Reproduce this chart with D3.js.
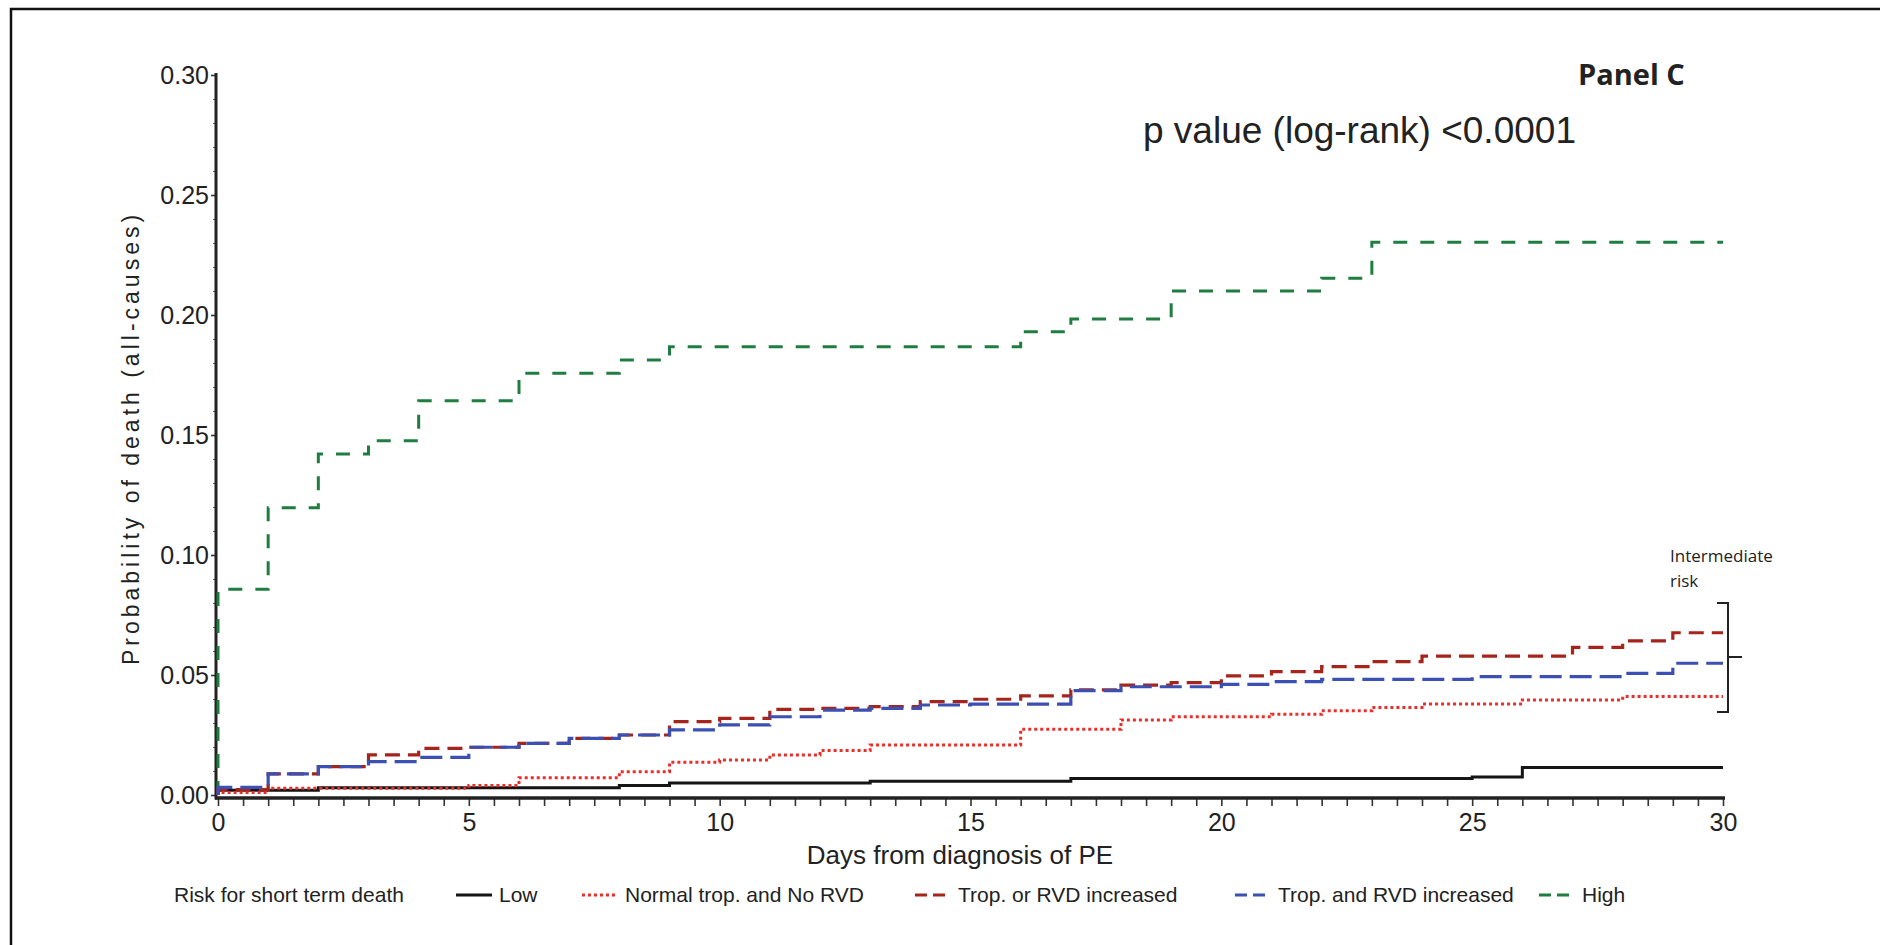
<!DOCTYPE html>
<html>
<head>
<meta charset="utf-8">
<script src="https://cdn.jsdelivr.net/npm/d3@7"></script>
<style>
    body { margin: 0; background: #fff; }
    svg { display: block; }
    text { font-family: "Liberation Sans", Arial, sans-serif; fill: #222; }
</style>
</head>
<body>
<svg id="chart" width="1880" height="945"></svg>
<script>
// days of each step + cumulative probability of death after the step
const lowDays = [0, 2, 8, 9, 13, 17, 25, 26];
const lowProb = [0.002, 0.003, 0.004, 0.005, 0.0057, 0.0069, 0.0075, 0.0115];

const normalDays = [0, 1, 5, 6, 8, 9, 10, 11, 12, 13, 16, 18, 19, 21, 22, 23, 24, 26, 28];
const normalProb = [0.001, 0.0028, 0.004, 0.0072, 0.0097, 0.0136, 0.0146, 0.0167, 0.0185, 0.0208,
    0.0274, 0.0313, 0.0326, 0.0336, 0.0351, 0.0365, 0.0379, 0.0396, 0.041];

const tropOrDays = [0, 1, 2, 3, 4, 5, 6, 7, 8, 9, 10, 11, 12, 13, 14, 15, 16, 17, 18, 19, 20, 21, 22, 23, 24, 27, 28, 29];
const tropOrProb = [0.0022, 0.0088, 0.0118, 0.0167, 0.0194, 0.0199, 0.0215, 0.0236, 0.025, 0.0306,
    0.0319, 0.0357, 0.0361, 0.0368, 0.0389, 0.0399, 0.0413, 0.0438, 0.0458, 0.0468,
    0.0496, 0.0514, 0.0535, 0.0556, 0.0579, 0.0615, 0.0642, 0.0676];

const tropAndDays = [0, 1, 2, 3, 4, 5, 6, 7, 8, 9, 10, 11, 12, 13, 14, 15, 17, 18, 20, 21, 22, 25, 28, 29];
const tropAndProb = [0.0032, 0.0088, 0.0118, 0.0139, 0.0157, 0.0199, 0.0215, 0.0236, 0.025, 0.0271,
    0.0292, 0.0326, 0.0354, 0.0361, 0.0375, 0.0379, 0.0435, 0.0451, 0.0461, 0.0472,
    0.0482, 0.0493, 0.0507, 0.0549];

const highDays = [0, 1, 2, 3, 4, 6, 8, 9, 16, 17, 19, 22, 23];
const highProb = [0.0857, 0.1197, 0.1421, 0.1476, 0.1643, 0.1757, 0.1813, 0.1868, 0.193, 0.1983, 0.21, 0.2153, 0.2303];

const groupNames = ["Low", "Normal trop. and No RVD", "Trop. or RVD increased", "Trop. and RVD increased", "High"];

const xTicks = [0, 5, 10, 15, 20, 25, 30];
const yTicks = [0, 0.05, 0.10, 0.15, 0.20, 0.25, 0.30];
const followUpEnd = 30;

document.addEventListener("DOMContentLoaded", () => {
    const svg = d3.select("#chart");

    // outer frame (only top + left edges show in the original)
    svg.append("path")
        .attr("d", "M11,945 L11,9 L1880,9")
        .attr("fill", "none")
        .attr("stroke", "#111")
        .attr("stroke-width", 2.5);

    const x = d3.scaleLinear().domain([0, 30]).range([218, 1723]);
    const y = d3.scaleLinear().domain([0, 0.30]).range([795, 75]);
    const axisY = 798; // x axis sits a bit below the zero level

    // x axis: minor ticks every half day, labels on 5s
    const halfDays = d3.range(0, 30.01, 0.5);
    const xAxis = d3.axisBottom(x)
        .tickValues(halfDays)
        .tickSize(8)
        .tickSizeOuter(0)
        .tickFormat(d => xTicks.includes(d) ? d3.format("d")(d) : "");

    const gx = svg.append("g")
        .attr("transform", `translate(0,${axisY})`)
        .call(xAxis);
    gx.select(".domain").remove();
    gx.selectAll(".tick line").attr("stroke", "#333").attr("stroke-width", 1.6);
    gx.selectAll(".tick text")
        .attr("y", 15)
        .attr("dy", "0.71em")
        .style("font-size", "25px")
        .style("font-family", "Liberation Sans, Arial, sans-serif")
        .attr("fill", "#222");

    // y minor ticks (tiny notches every 0.01)
    const yMinor = d3.axisLeft(y)
        .tickValues(d3.range(0, 0.3001, 0.01))
        .tickSize(3)
        .tickSizeOuter(0)
        .tickFormat("");
    const gym = svg.append("g")
        .attr("transform", "translate(216,0)")
        .call(yMinor);
    gym.select(".domain").remove();
    gym.selectAll(".tick line").attr("stroke", "#555").attr("stroke-width", 1);

    const yAxis = d3.axisLeft(y)
        .tickValues(yTicks)
        .tickSize(5)
        .tickSizeOuter(0)
        .tickFormat(d3.format(".2f"));

    const gy = svg.append("g")
        .attr("transform", "translate(216,0)")
        .call(yAxis);
    gy.select(".domain").remove();
    gy.selectAll(".tick line").attr("stroke", "#333").attr("stroke-width", 1.6);
    gy.selectAll(".tick text")
        .attr("x", -7)
        .style("font-size", "25px")
        .style("font-family", "Liberation Sans, Arial, sans-serif")
        .attr("fill", "#222");

    // the axis lines themselves, drawn thick like the SAS output
    svg.append("line")
        .attr("x1", 216).attr("x2", 216)
        .attr("y1", y(0.30) - 2).attr("y2", axisY + 1.5)
        .attr("stroke", "#222").attr("stroke-width", 3);
    svg.append("line")
        .attr("x1", 215).attr("x2", x(30) + 2)
        .attr("y1", axisY).attr("y2", axisY)
        .attr("stroke", "#222").attr("stroke-width", 3.5);

    // axis titles
    svg.append("text")
        .attr("x", 960)
        .attr("y", 864)
        .attr("text-anchor", "middle")
        .style("font-size", "26px")
        .text("Days from diagnosis of PE");

    svg.append("text")
        .attr("transform", "translate(139,438) rotate(-90)")
        .attr("text-anchor", "middle")
        .style("font-size", "23px")
        .style("letter-spacing", "4px")
        .text("Probability of death (all-causes)");

    // make a KM style step curve out of the day / prob arrays
    function stepPoints(days, probs) {
        const pts = [[0, 0]];
        days.forEach((d, i) => pts.push([d, probs[i]]));
        pts.push([followUpEnd, probs[probs.length - 1]]);
        return pts;
    }

    const line = d3.line()
        .x(d => x(d[0]))
        .y(d => y(d[1]))
        .curve(d3.curveStepAfter);

    const curves = [
        { name: groupNames[4], pts: stepPoints(highDays, highProb), color: "#1f7d40", dash: "14,13", width: 3 },
        { name: groupNames[0], pts: stepPoints(lowDays, lowProb), color: "#151515", dash: null, width: 3 },
        { name: groupNames[1], pts: stepPoints(normalDays, normalProb), color: "#ea2f2a", dash: "3,3", width: 3 },
        { name: groupNames[2], pts: stepPoints(tropOrDays, tropOrProb), color: "#a5251d", dash: "15,8", width: 3.2 },
        { name: groupNames[3], pts: stepPoints(tropAndDays, tropAndProb), color: "#3c4fb3", dash: "22,8", width: 3.2 }
    ];

    curves.forEach(c => {
        svg.append("path")
            .datum(c.pts)
            .attr("fill", "none")
            .attr("stroke", c.color)
            .attr("stroke-width", c.width)
            .attr("stroke-dasharray", c.dash)
            .attr("d", line);
    });

    // annotations
    svg.append("text")
        .attr("x", 1578)
        .attr("y", 85)
        .style("font-family", "Open Sans, sans-serif")
        .style("font-weight", "bold")
        .style("font-size", "29px")
        .attr("fill", "#111")
        .text("Panel C");

    svg.append("text")
        .attr("x", 1143)
        .attr("y", 143)
        .style("font-size", "37px")
        .attr("fill", "#1a1a1a")
        .text("p value (log-rank) <0.0001");

    const noteFont = "Open Sans, sans-serif";
    svg.append("text")
        .attr("x", 1670)
        .attr("y", 562)
        .style("font-family", noteFont)
        .style("font-size", "17px")
        .text("Intermediate");
    svg.append("text")
        .attr("x", 1670)
        .attr("y", 587)
        .style("font-family", noteFont)
        .style("font-size", "17px")
        .text("risk");

    // bracket round the three intermediate curves
    svg.append("path")
        .attr("d", "M1717,603 L1728,603 L1728,712 L1717,712 M1728,657 L1742,657")
        .attr("fill", "none")
        .attr("stroke", "#222")
        .attr("stroke-width", 2);

    // legend
    const legendY = 895;
    svg.append("text")
        .attr("x", 174)
        .attr("y", legendY)
        .attr("dy", "0.35em")
        .style("font-size", "21px")
        .text("Risk for short term death");

    const legendX = [456, 582, 915, 1235, 1539];
    const legendOrder = [1, 2, 3, 4, 0]; // curves[] index for each legend entry
    legendOrder.forEach((ci, i) => {
        const c = curves[ci];
        const lx = legendX[i];
        svg.append("line")
            .attr("x1", lx).attr("x2", lx + 36)
            .attr("y1", legendY).attr("y2", legendY)
            .attr("stroke", c.color)
            .attr("stroke-width", 3)
            .attr("stroke-dasharray", c.dash ? (c.dash === "3,3" ? "3,3" : "12,6") : null);
        svg.append("text")
            .attr("x", lx + 43)
            .attr("y", legendY)
            .attr("dy", "0.35em")
            .style("font-size", "21px")
            .text(c.name);
    });
});
</script>
</body>
</html>
